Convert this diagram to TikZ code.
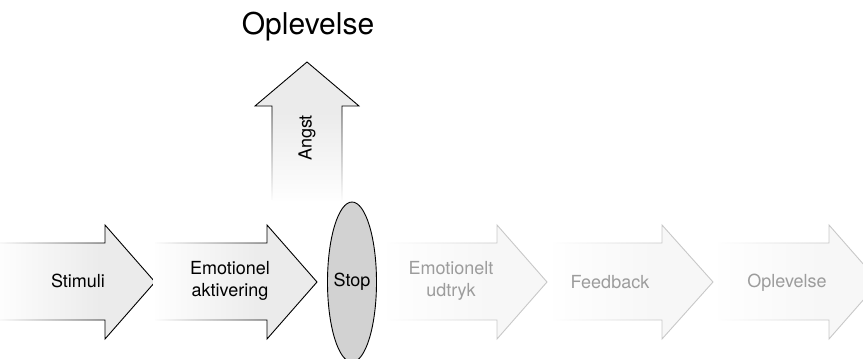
\documentclass[tikz,border=0pt]{standalone}
\usepackage{fontspec}
\setmainfont{TeX Gyre Heros}
\usetikzlibrary{fadings,shapes.geometric}
\tikzfading[name=fadeRight, left color=transparent!0, right color=transparent!100]
\tikzfading[name=fadeUp, top color=transparent!100, bottom color=transparent!0]
\definecolor{darkfill}{HTML}{EBEBEB}
\definecolor{lightfill}{HTML}{F7F7F7}
\definecolor{lightline}{HTML}{C8C8C8}
\definecolor{lighttext}{HTML}{9C9C9C}
\definecolor{stopfill}{HTML}{D2D2D2}
\tikzset{
  lbl/.style={font=\fontsize{18}{22}\selectfont, align=center, inner sep=0pt},
  dimlbl/.style={lbl, text=lighttext},
  outl/.style={line width=0.9pt, line join=miter},
}
% #1 left, #2 head base, #3 tip, #4 line colour, #5 fill colour
\newcommand\harrow[5]{%
  \fill[#5] (#1,243) -- (#2,243) -- (#2,225) -- (#3,282) -- (#2,339) -- (#2,320) -- (#1,320) -- cycle;
  \draw[outl, #4] (#1,243) -- (#2,243) -- (#2,225) -- (#3,282) -- (#2,339) -- (#2,320) -- (#1,320);
  \fill[white, path fading=fadeRight] (#1-2,241) rectangle (#2-2,322);
}
\begin{document}
\begin{tikzpicture}[x=1pt, y=-1pt]
\useasboundingbox (0,0) rectangle (863,359);
% main arrows
\harrow{-5}{105}{155}{black}{darkfill}
\harrow{155}{267}{317}{black}{darkfill}
\harrow{387}{497}{547}{lightline}{lightfill}
\harrow{553}{662}{713}{lightline}{lightfill}
\harrow{718}{829}{879}{lightline}{lightfill}
% up arrow
\fill[darkfill] (272,200) -- (272,106) -- (255,106) -- (307,62) -- (359,106) -- (342,106) -- (342,200) -- cycle;
\draw[outl] (272,200) -- (272,106) -- (255,106) -- (307,62) -- (359,106) -- (342,106) -- (342,200);
\fill[white, path fading=fadeUp] (270,110) rectangle (344,202);
% stop
\node[draw=black, line width=0.9pt, fill=stopfill, ellipse, minimum width=49pt, minimum height=160pt, inner sep=0pt] (stop) at (352,282) {};
\node[lbl] (stoplbl) at (352,282) {Stop};
% labels
\node[font=\fontsize{30}{35}\selectfont, inner sep=0pt] (title) at (308,27) {Oplevelse};
\node[lbl, rotate=90] (angst) at (307,138) {Angst};
\node[lbl] (stim) at (78,281) {Stimuli};
\node[lbl] (emo) at (230,281) {Emotionel\\aktivering};
\node[dimlbl] (udt) at (451,281) {Emotionelt\\udtryk};
\node[dimlbl] (feed) at (610,282) {Feedback};
\node[dimlbl] (opl) at (787,283) {Oplevelse};
\end{tikzpicture}
\end{document}
